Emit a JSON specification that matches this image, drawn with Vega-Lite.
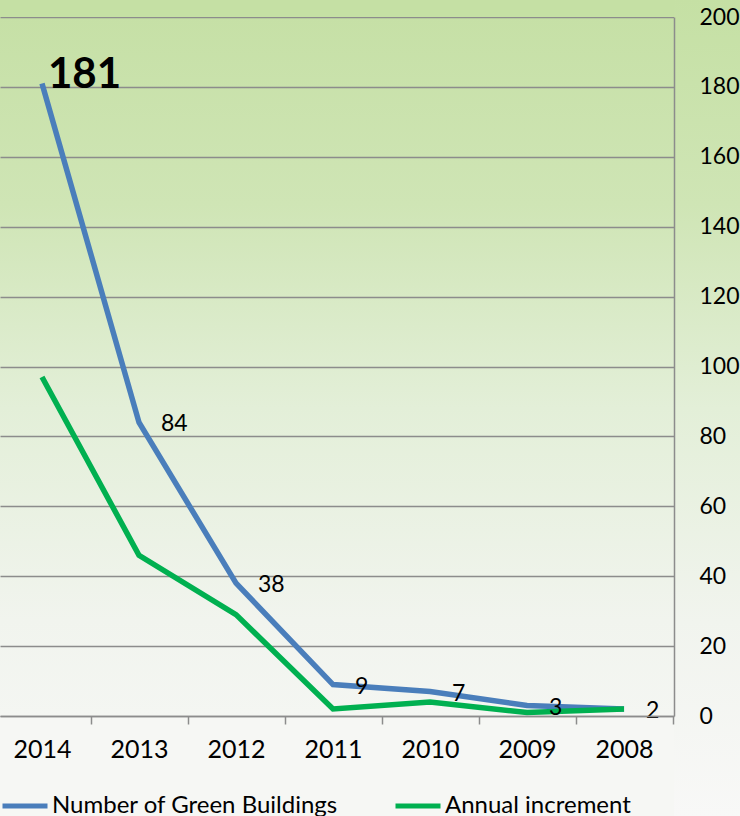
{
  "$schema": "https://vega.github.io/schema/vega-lite/v6.json",
  "width": 674,
  "height": 699,
  "autosize": {"type": "none"},
  "padding": {"left": 0, "top": 17, "right": 66, "bottom": 100},
  "background": "#f6f7f4",
  "config": {
    "view": {
      "stroke": null,
      "fill": {
        "gradient": "linear",
        "x1": 0, "y1": 0, "x2": 0, "y2": 1,
        "stops": [
          {"offset": 0, "color": "#c6e0a6"},
          {"offset": 0.2675, "color": "#cfe5b5"},
          {"offset": 0.559, "color": "#e3efd8"},
          {"offset": 0.863, "color": "#f1f4ee"},
          {"offset": 1, "color": "#f4f6f2"}
        ]
      }
    },
    "font": "Lato",
    "text": {"font": "Lato"}
  },
  "resolve": {"axis": {"y": "independent"}},
  "data": {
    "values": [
      {"year": 2014, "series": "Number of Green Buildings", "value": 181},
      {"year": 2013, "series": "Number of Green Buildings", "value": 84},
      {"year": 2012, "series": "Number of Green Buildings", "value": 38},
      {"year": 2011, "series": "Number of Green Buildings", "value": 9},
      {"year": 2010, "series": "Number of Green Buildings", "value": 7},
      {"year": 2009, "series": "Number of Green Buildings", "value": 3},
      {"year": 2008, "series": "Number of Green Buildings", "value": 2},
      {"year": 2014, "series": "Annual increment", "value": 97},
      {"year": 2013, "series": "Annual increment", "value": 46},
      {"year": 2012, "series": "Annual increment", "value": 29},
      {"year": 2011, "series": "Annual increment", "value": 2},
      {"year": 2010, "series": "Annual increment", "value": 4},
      {"year": 2009, "series": "Annual increment", "value": 1},
      {"year": 2008, "series": "Annual increment", "value": 2}
    ]
  },
  "layer": [
    {
      "data": {"values": [{"left": 2007.485, "right": 2006.8, "top": 205, "bottom": -29}]},
      "mark": {
        "type": "rect",
        "fill": {
          "gradient": "linear",
          "x1": 0, "y1": 0, "x2": 0, "y2": 1,
          "stops": [
            {"offset": 0, "color": "#c5e0a4"},
            {"offset": 0.25, "color": "#cfe5b5"},
            {"offset": 0.5, "color": "#e3efd8"},
            {"offset": 0.76, "color": "#f1f4ee"},
            {"offset": 1, "color": "#f8f8f7"}
          ]
        }
      },
      "encoding": {
        "x": {"field": "left", "type": "quantitative",
              "scale": {"domain": [2007.485, 2014.433], "reverse": true, "nice": false, "zero": false}},
        "x2": {"field": "right"},
        "y": {"field": "top", "type": "quantitative", "axis": null,
              "scale": {"domain": [0, 200], "nice": false, "zero": false}},
        "y2": {"field": "bottom"}
      }
    },
    {
      "data": {"values": [{"left": 2014.433, "right": 2007.485, "top": 205, "bottom": 200}]},
      "mark": {"type": "rect", "fill": "#c5e0a4"},
      "encoding": {
        "x": {"field": "left", "type": "quantitative",
              "scale": {"domain": [2007.485, 2014.433], "reverse": true, "nice": false, "zero": false}},
        "x2": {"field": "right"},
        "y": {"field": "top", "type": "quantitative",
              "scale": {"domain": [0, 200], "nice": false, "zero": false},
              "axis": {
                "title": null,
                "orient": "left",
                "zindex": 0,
                "values": [0, 20, 40, 60, 80, 100, 120, 140, 160, 180, 200],
                "grid": true,
                "gridColor": "#8c8c8c",
                "gridWidth": 1.5,
                "domain": false,
                "ticks": false,
                "labels": false,
                "minExtent": 0,
                "maxExtent": 0
              }},
        "y2": {"field": "bottom"}
      }
    },
    {
      "mark": {"type": "line", "strokeWidth": 5.5},
      "encoding": {
        "x": {
          "field": "year", "type": "quantitative",
          "scale": {"domain": [2007.485, 2014.433], "reverse": true, "nice": false, "zero": false},
          "axis": {
            "title": null,
            "zindex": 1,
            "values": [2014, 2013, 2012, 2011, 2010, 2009, 2008],
            "format": "d",
            "grid": false,
            "domainColor": "#8c8c8c",
            "domainWidth": 1.5,
            "tickColor": "#8c8c8c",
            "tickWidth": 1.5,
            "tickSize": 8,
            "tickOffset": 48.5,
            "labelOffset": -48.5,
            "labelPadding": 13,
            "labelFontSize": 25,
            "labelFont": "Lato",
            "labelColor": "#000000"
          }
        },
        "y": {
          "field": "value", "type": "quantitative",
          "scale": {"domain": [0, 200], "nice": false, "zero": false},
          "axis": {
            "title": null,
            "zindex": 1,
            "orient": "right",
            "values": [0, 20, 40, 60, 80, 100, 120, 140, 160, 180, 200],
            "grid": false,
            "domain": true,
            "domainColor": "#8c8c8c",
            "domainWidth": 1.5,
            "ticks": false,
            "labelPadding": 25,
            "labelAlign": "left",
            "labelFontSize": 23,
            "labelFont": "Lato",
            "labelColor": "#000000"
          }
        },
        "color": {
          "field": "series", "type": "nominal",
          "scale": {
            "domain": ["Number of Green Buildings", "Annual increment"],
            "range": ["#4a7ebb", "#00b050"]
          },
          "legend": {
            "orient": "none",
            "legendX": 0,
            "legendY": 764,
            "direction": "horizontal",
            "title": null,
            "padding": 0,
            "symbolType": "stroke",
            "symbolSize": 2025,
            "symbolStrokeWidth": 5,
            "labelFontSize": 24,
            "labelFont": "Lato",
            "labelColor": "#000000",
            "labelOffset": 2,
            "columnPadding": 46,
            "labelLimit": 400
          }
        },
        "order": {"field": "series", "sort": "descending"}
      }
    },
    {
      "transform": [{"filter": "datum.series === 'Number of Green Buildings' && datum.year !== 2014"}],
      "mark": {"type": "text", "align": "left", "baseline": "middle", "dx": 22, "dy": 2, "fontSize": 23, "font": "Lato", "color": "#000000"},
      "encoding": {
        "x": {"field": "year", "type": "quantitative",
              "scale": {"domain": [2007.485, 2014.433], "reverse": true, "nice": false, "zero": false}},
        "y": {"field": "value", "type": "quantitative", "axis": null,
              "scale": {"domain": [0, 200], "nice": false, "zero": false}},
        "text": {"field": "value", "type": "quantitative"}
      }
    },
    {
      "transform": [{"filter": "datum.series === 'Number of Green Buildings' && datum.year === 2014"}],
      "mark": {"type": "text", "align": "left", "baseline": "middle", "dx": 6, "dy": -8, "fontSize": 42, "fontWeight": "bold", "font": "Lato", "color": "#000000"},
      "encoding": {
        "x": {"field": "year", "type": "quantitative",
              "scale": {"domain": [2007.485, 2014.433], "reverse": true, "nice": false, "zero": false}},
        "y": {"field": "value", "type": "quantitative", "axis": null,
              "scale": {"domain": [0, 200], "nice": false, "zero": false}},
        "text": {"field": "value", "type": "quantitative"}
      }
    }
  ]
}
